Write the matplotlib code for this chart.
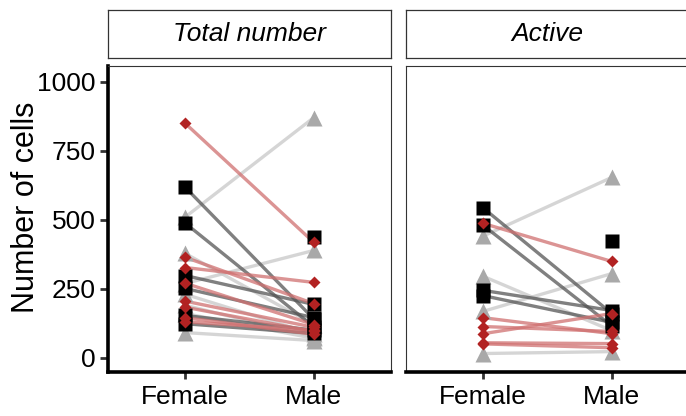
import numpy as np
import matplotlib
matplotlib.use("Agg")
import matplotlib.pyplot as plt

plt.rcParams['font.family'] = ['Liberation Sans', 'DejaVu Sans']

# ---------------- data ----------------
sexes = ['Female', 'Male']
panel_titles = ['Total number', 'Active']
y_ticks = [0, 250, 500, 750, 1000]

# Total number (Female, Male) for each animal, by group
total_sq_female = [618, 488, 298, 251, 153, 123, np.nan]
total_sq_male = [140, 112, 193, 145, 100, 88, 436]
total_di_female = [850, 364, 327, 270, 205, 183, 145, 130]
total_di_male = [418, 196, 273, 120, 110, 95, 85, 100]
total_tr_female = [510, 269, 378, 230, 190, 160, 91]
total_tr_male = [871, 389, 120, 85, 75, 70, 62]

# Active
active_sq_female = [543, 480, 244, 225, np.nan]
active_sq_male = [160, 115, 171, 128, 425]
active_di_female = [487, 145, 113, 87, 54, 50]
active_di_male = [349, 87, 95, 160, 51, 36]
active_tr_female = [441, 295, 168, 15]
active_tr_male = [654, 98, 305, 22]

panels = [
    {'tr': (total_tr_female, total_tr_male),
     'sq': (total_sq_female, total_sq_male),
     'di': (total_di_female, total_di_male)},
    {'tr': (active_tr_female, active_tr_male),
     'sq': (active_sq_female, active_sq_male),
     'di': (active_di_female, active_di_male)},
]

styles = {
    'tr': dict(color='#A9A9A9', marker='^', ms=11, line='#C8C8C8'),
    'sq': dict(color='black', marker='s', ms=9.5, line='#555555'),
    'di': dict(color='#B22222', marker='D', ms=6.5, line='#D07070'),
}
order = ['tr', 'sq', 'di']

# ---------------- figure ----------------
W, H = 686, 416
fig = plt.figure(figsize=(W / 100, H / 100), dpi=100)


def fx(px):
    return px / W


def fy(px):
    return 1 - px / H


for i, (title, data) in enumerate(zip(panel_titles, panels)):
    left_px = 108 if i == 0 else 406
    ax = fig.add_axes([fx(left_px), fy(372), 283 / W, 306 / H])
    x = np.array([1, 2])

    # lines first
    for g in order:
        fem, mal = data[g]
        for f, m in zip(fem, mal):
            ax.plot(x, [f, m], color=styles[g]['line'], lw=2.4,
                    alpha=0.75, solid_capstyle='butt', zorder=2)
    # then points
    for g in order:
        fem, mal = data[g]
        st = styles[g]
        ax.plot(np.ones(len(fem)), fem, ls='none', marker=st['marker'],
                ms=st['ms'], color=st['color'], mec='none', zorder=3)
        ax.plot(np.full(len(mal), 2), mal, ls='none', marker=st['marker'],
                ms=st['ms'], color=st['color'], mec='none', zorder=3)

    ax.set_xlim(0.4, 2.6)
    ax.set_ylim(-52, 1058)
    ax.set_xticks([1, 2])
    ax.set_xticklabels(sexes, fontsize=19)
    ax.set_yticks(y_ticks)
    ax.tick_params(axis='x', length=5, width=2, color='#333333', pad=4)
    ax.tick_params(axis='y', length=6, width=2, color='#333333', pad=3,
                   labelsize=19)

    for s in ['top', 'right', 'left', 'bottom']:
        ax.spines[s].set_color('#333333')
        ax.spines[s].set_linewidth(0.8)
    ax.spines['bottom'].set_color('black')
    ax.spines['bottom'].set_linewidth(2.6)
    if i == 0:
        ax.spines['left'].set_color('black')
        ax.spines['left'].set_linewidth(2.6)
    else:
        ax.tick_params(axis='y', left=False, labelleft=False)

    # facet strip
    sx = fig.add_axes([fx(left_px), fy(58), 283 / W, 48 / H])
    sx.set_xticks([])
    sx.set_yticks([])
    for s in sx.spines.values():
        s.set_color('#333333')
        s.set_linewidth(0.9)
    sx.text(0.5, 0.5, title, ha='center', va='center', fontsize=19,
            style='italic', transform=sx.transAxes)

fig.text(fx(26), fy(207), 'Number of cells', rotation=90, fontsize=22,
         ha='center', va='center')

fig.savefig('out.png', dpi=100)
